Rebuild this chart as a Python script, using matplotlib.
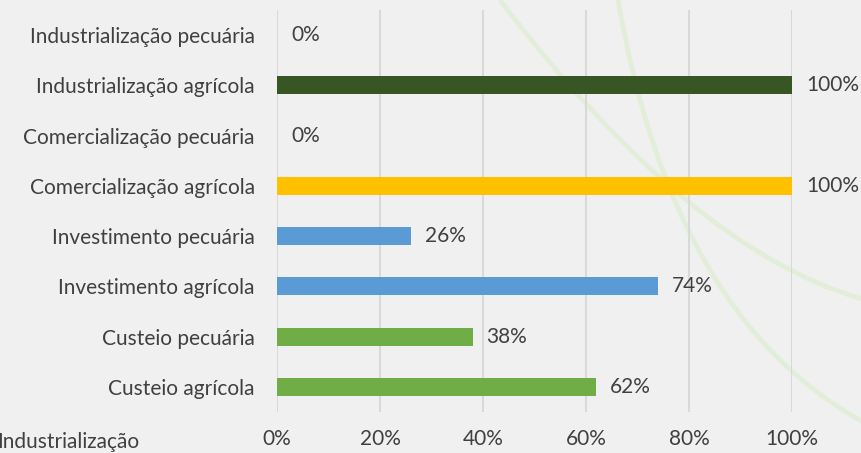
import matplotlib.pyplot as plt
import numpy as np
from matplotlib.path import Path
from matplotlib.patches import PathPatch

categorias = ["Custeio agrícola", "Custeio pecuária", "Investimento agrícola",
              "Investimento pecuária", "Comercialização agrícola", "Comercialização pecuária",
              "Industrialização agrícola", "Industrialização pecuária"]
valores = [62, 38, 74, 26, 100, 0, 100, 0]
cores = ["#70AD47", "#70AD47", "#5B9BD5", "#5B9BD5", "#FFC000", "#FFC000", "#375623", "#375623"]
ticks_x = [0, 20, 40, 60, 80, 100]

plt.rcParams['font.family'] = ['Lato', 'DejaVu Sans']
cor_texto = "#404040"
tam = 15

fig = plt.figure(figsize=(8.62, 4.53), dpi=100, facecolor="#f0f0f0")

# enfeite de fundo (curvas verdes claras)
for verts in [[(0.58, 1.0), (0.80, 0.45), (1.0, 0.34)],
              [(0.717, 1.0), (0.78, 0.30), (1.0, 0.07)]]:
    p = Path(verts, [Path.MOVETO, Path.CURVE3, Path.CURVE3])
    fig.add_artist(PathPatch(p, transform=fig.transFigure, fill=False,
                             edgecolor="#ddeed2", lw=3.5, alpha=0.7, zorder=0))

ax = fig.add_axes([277/862, 1 - 412/453, 515/862, 402/453])
ax.set_facecolor("none")
y = np.arange(len(categorias))
bars = ax.barh(y, valores, height=0.36, color=cores, zorder=3)
for bar, v in zip(bars, valores):
    ax.annotate(f"{v}%", (bar.get_width(), bar.get_y() + bar.get_height()/2),
                xytext=(10, 0), textcoords="offset points", va="center", ha="left",
                fontsize=tam, color=cor_texto)

ax.set_xlim(0, 100)
ax.set_ylim(-0.5, len(categorias) - 0.5)
ax.set_yticks(y)
ax.set_yticklabels(categorias, fontsize=tam, color=cor_texto)
ax.set_xticks(ticks_x)
ax.set_xticklabels([f"{t}%" for t in ticks_x], fontsize=tam, color=cor_texto)
ax.tick_params(axis="y", length=0, pad=16)
ax.tick_params(axis="x", length=0, pad=12)
ax.grid(axis="x", color="#d9d9d9", lw=1.5, zorder=0)
for s in ax.spines.values():
    s.set_visible(False)

# texto cortado no canto inferior esquerdo
fig.text(-0.003, 1 - 432/453, "Industrialização", fontsize=tam, color=cor_texto,
         ha="left", va="top")

fig.savefig("out.png", dpi=100, facecolor=fig.get_facecolor())
